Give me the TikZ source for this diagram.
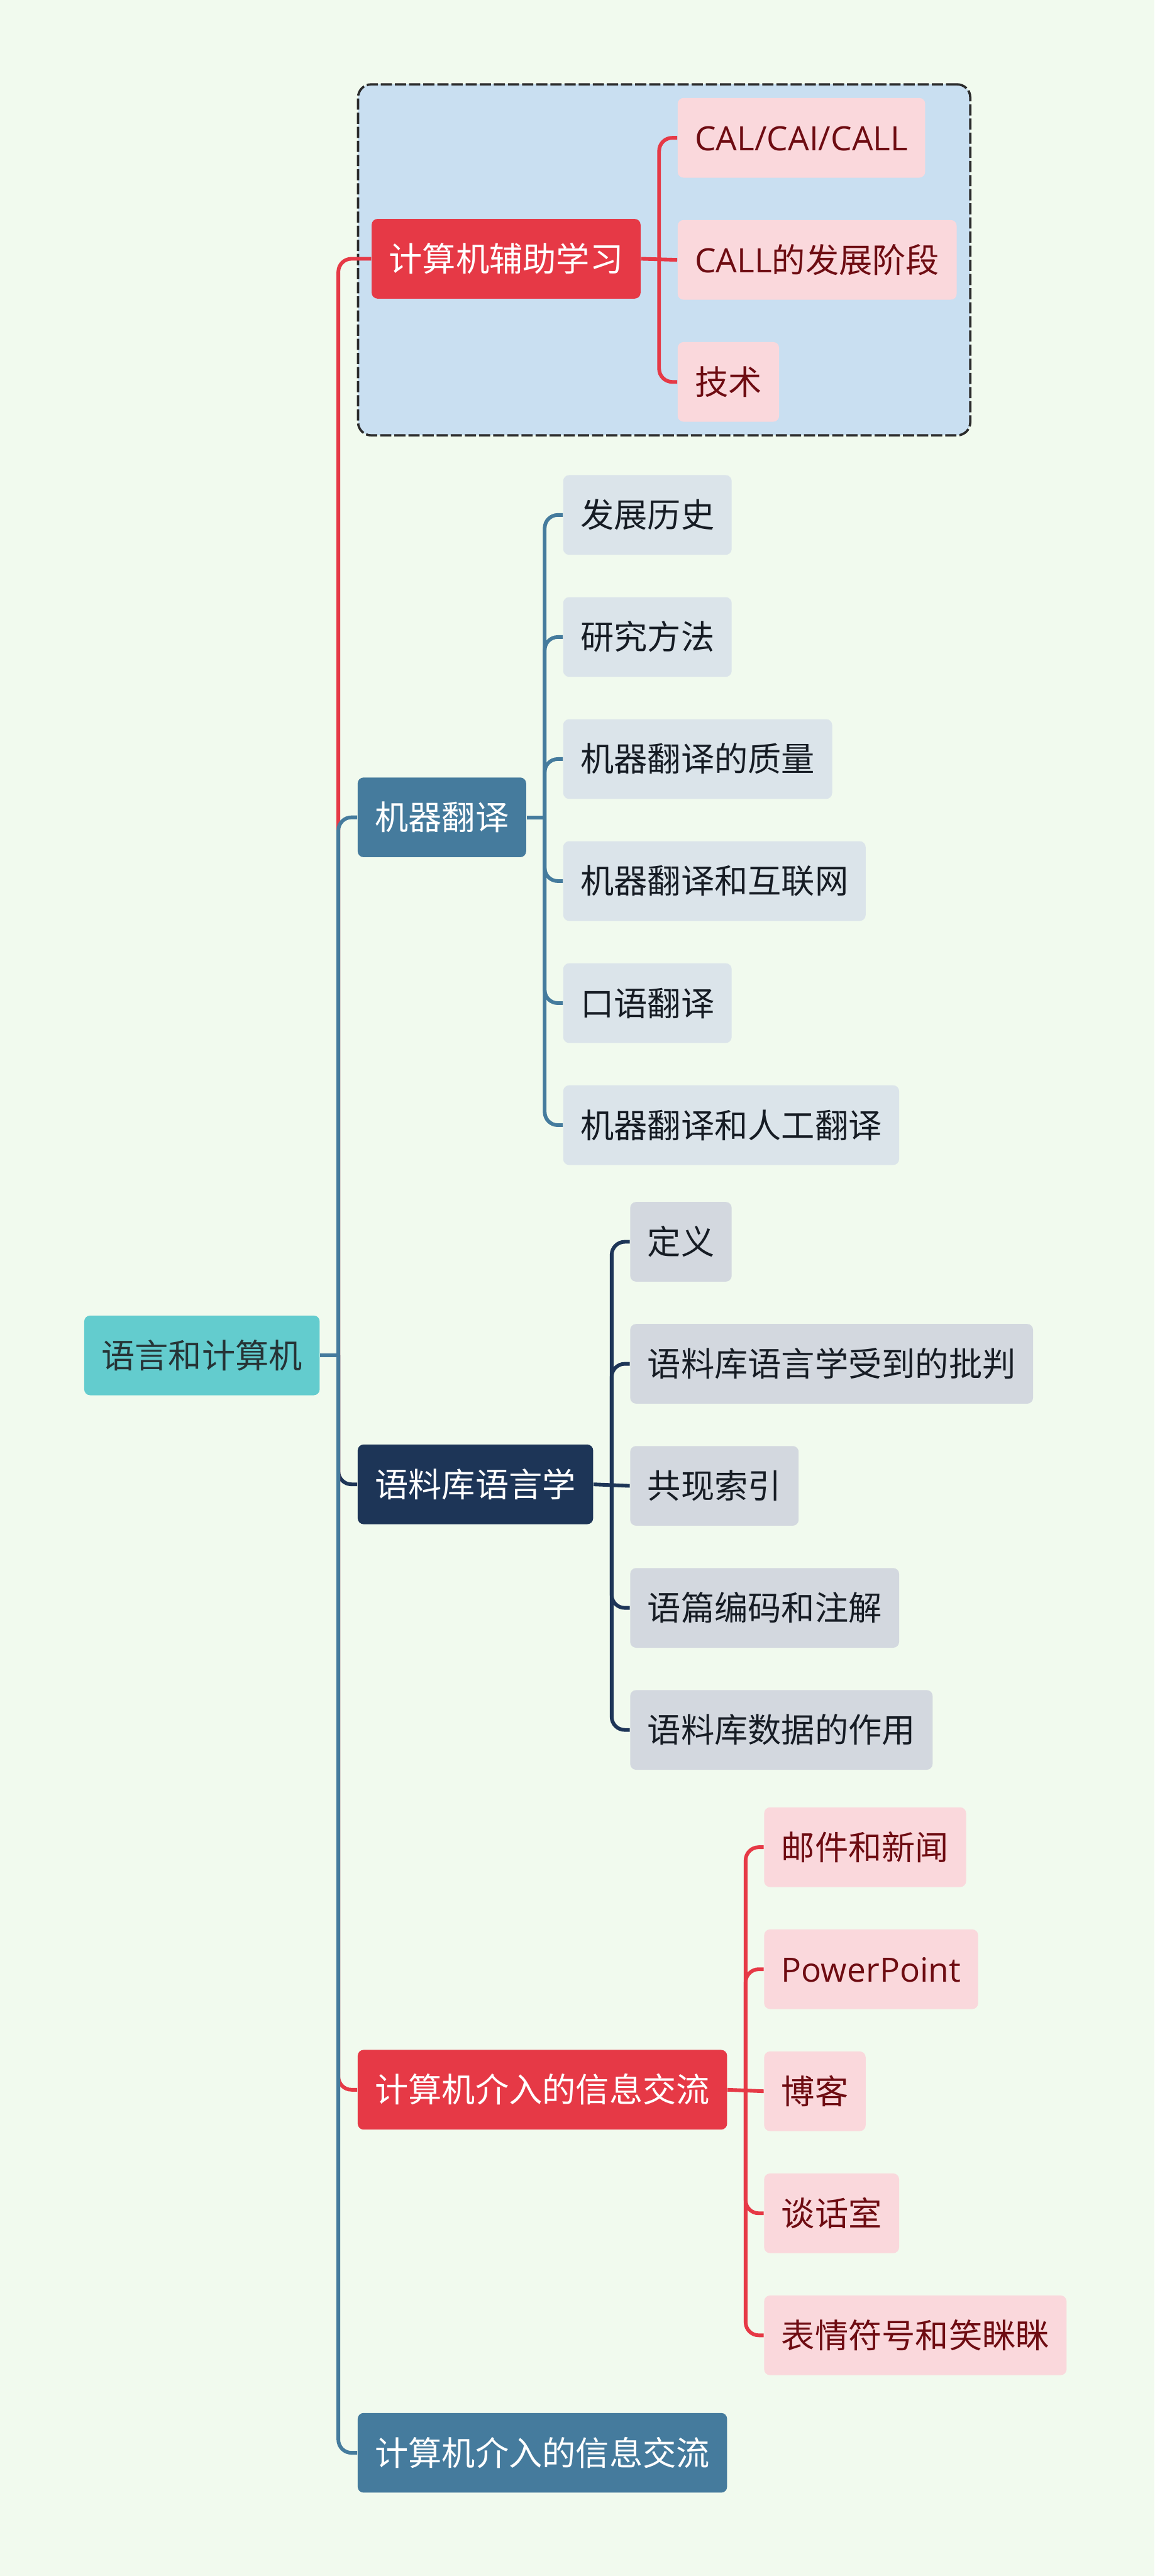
\documentclass[tikz,border=0pt]{standalone}
\usepackage{fontspec}
\setmainfont{Noto Sans CJK SC}
\newfontfamily\latinfont{Open Sans}
\usepackage{tikz}
\usetikzlibrary{positioning, fit, backgrounds}
\definecolor{pagebg}{RGB}{241,250,238}
\definecolor{rootfill}{RGB}{99,204,206}
\definecolor{roottext}{RGB}{38,52,54}
\definecolor{redfill}{RGB}{230,57,70}
\definecolor{pinkfill}{RGB}{250,216,220}
\definecolor{pinktext}{RGB}{110,12,18}
\definecolor{bluefill}{RGB}{69,123,157}
\definecolor{bluegray}{RGB}{219,228,234}
\definecolor{navyfill}{RGB}{29,53,87}
\definecolor{navygray}{RGB}{211,216,223}
\definecolor{leaftext}{RGB}{22,28,36}
\definecolor{groupfill}{RGB}{201,223,241}
\definecolor{groupframe}{RGB}{43,43,43}

\begin{document}
\begin{tikzpicture}[
        x=0.025cm, y=-0.025cm,
        node distance=0.63cm and 0.55cm,
        topic/.style={rectangle, rounded corners=0.09cm, minimum height=1.2125cm, inner xsep=0.2625cm, inner ysep=0pt, text height=12.7pt, text depth=1.8pt, font=\fontsize{14.5pt}{17pt}\selectfont},
        rootbox/.style={topic, fill=rootfill, text=roottext},
        redbox/.style={topic, fill=redfill, text=white},
        bluebox/.style={topic, fill=bluefill, text=white},
        navybox/.style={topic, fill=navyfill, text=white},
        pinkleaf/.style={topic, fill=pinkfill, text=pinktext},
        blueleaf/.style={topic, fill=bluegray, text=leaftext},
        navyleaf/.style={topic, fill=navygray, text=leaftext},
        link/.style={line width=1.6pt, rounded corners=0.2cm},
        group/.style={draw=groupframe, fill=groupfill, line width=1pt, dash pattern=on 0.17cm off 0.045cm, rounded corners=0.2cm, inner sep=0.2cm}
    ]
    \useasboundingbox (0,0) rectangle (703,1568);

    % root
    \node[rootbox, anchor=west] (root) at (51,825) {语言和计算机};
    \coordinate (trunk) at (206,825);

    % branch 1
    \node[redbox, anchor=west] (cal) at (226,157.5) {计算机辅助学习};
    \node[pinkleaf, above right=1.84cm and 0.55cm of cal.east, anchor=west] (c1) {\latinfont CAL/CAI/CALL};
    \node[pinkleaf, below=of c1.south west, anchor=north west] (c2) {{\latinfont CALL}的发展阶段};
    \node[pinkleaf, below=of c2.south west, anchor=north west] (c3) {技术};

    % branch 2
    \node[bluebox, anchor=west] (mt) at (217.5,497.5) {机器翻译};
    \node[blueleaf, above right=4.6cm and 0.55cm of mt.east, anchor=west] (m1) {发展历史};
    \node[blueleaf, below=of m1.south west, anchor=north west] (m2) {研究方法};
    \node[blueleaf, below=of m2.south west, anchor=north west] (m3) {机器翻译的质量};
    \node[blueleaf, below=of m3.south west, anchor=north west] (m4) {机器翻译和互联网};
    \node[blueleaf, below=of m4.south west, anchor=north west] (m5) {口语翻译};
    \node[blueleaf, below=of m5.south west, anchor=north west] (m6) {机器翻译和人工翻译};

    % branch 3
    \node[navybox, anchor=west] (cl) at (217.5,903.5) {语料库语言学};
    \node[navyleaf, above right=3.69cm and 0.55cm of cl.east, anchor=west] (k1) {定义};
    \node[navyleaf, below=of k1.south west, anchor=north west] (k2) {语料库语言学受到的批判};
    \node[navyleaf, below=of k2.south west, anchor=north west] (k3) {共现索引};
    \node[navyleaf, below=of k3.south west, anchor=north west] (k4) {语篇编码和注解};
    \node[navyleaf, below=of k4.south west, anchor=north west] (k5) {语料库数据的作用};

    % branch 4
    \node[redbox, anchor=west] (cmc) at (217.5,1272) {计算机介入的信息交流};
    \node[pinkleaf, above right=3.69cm and 0.55cm of cmc.east, anchor=west] (e1) {邮件和新闻};
    \node[pinkleaf, below=of e1.south west, anchor=north west] (e2) {\latinfont PowerPoint};
    \node[pinkleaf, below=of e2.south west, anchor=north west] (e3) {博客};
    \node[pinkleaf, below=of e3.south west, anchor=north west] (e4) {谈话室};
    \node[pinkleaf, below=of e4.south west, anchor=north west] (e5) {表情符号和笑眯眯};

    % branch 5
    \node[bluebox, anchor=west] (cmc2) at (217.5,1493) {计算机介入的信息交流};

    % trunk
    \draw[link, redfill] (trunk) -- (trunk |- cal.west) -- (cal.west);
    \draw[link, bluefill] (trunk) -- (trunk |- mt.west) -- (mt.west);
    \draw[link, navyfill] (trunk) -- (trunk |- cl.west) -- (cl.west);
    \draw[link, redfill] (trunk) -- (trunk |- cmc.west) -- (cmc.west);
    \draw[link, bluefill] (trunk) -- (trunk |- cmc2.west) -- (cmc2.west);
    \draw[line width=1.6pt, bluefill] (root.east) -- (trunk);

    % sub branches
    \coordinate[right=0.275cm of cal.east] (calbus);
    \draw[line width=1.6pt, redfill] (cal.east) -- (c2.west);
    \draw[link, redfill] (calbus) -- (calbus |- c1.west) -- (c1.west); \draw[link, redfill] (calbus) -- (calbus |- c3.west) -- (c3.west);

    \coordinate[right=0.275cm of mt.east] (mtbus);
    \draw[line width=1.6pt, bluefill] (mt.east) -- (mtbus);
    \draw[link, bluefill] (mtbus) -- (mtbus |- m1.west) -- (m1.west); \draw[link, bluefill] (mtbus) -- (mtbus |- m2.west) -- (m2.west);
    \draw[link, bluefill] (mtbus) -- (mtbus |- m3.west) -- (m3.west); \draw[link, bluefill] (mtbus) -- (mtbus |- m4.west) -- (m4.west);
    \draw[link, bluefill] (mtbus) -- (mtbus |- m5.west) -- (m5.west); \draw[link, bluefill] (mtbus) -- (mtbus |- m6.west) -- (m6.west);

    \coordinate[right=0.275cm of cl.east] (clbus);
    \draw[line width=1.6pt, navyfill] (cl.east) -- (k3.west);
    \draw[link, navyfill] (clbus) -- (clbus |- k1.west) -- (k1.west); \draw[link, navyfill] (clbus) -- (clbus |- k2.west) -- (k2.west);
    \draw[link, navyfill] (clbus) -- (clbus |- k4.west) -- (k4.west); \draw[link, navyfill] (clbus) -- (clbus |- k5.west) -- (k5.west);

    \coordinate[right=0.275cm of cmc.east] (cmcbus);
    \draw[line width=1.6pt, redfill] (cmc.east) -- (e3.west);
    \draw[link, redfill] (cmcbus) -- (cmcbus |- e1.west) -- (e1.west); \draw[link, redfill] (cmcbus) -- (cmcbus |- e2.west) -- (e2.west);
    \draw[link, redfill] (cmcbus) -- (cmcbus |- e4.west) -- (e4.west); \draw[link, redfill] (cmcbus) -- (cmcbus |- e5.west) -- (e5.west);

    % page and group frame
    \begin{scope}[on background layer]
        \fill[pagebg] (0,0) rectangle (703,1568);
        \node[group, fit=(cal)(c1)(c2)(c3)] (calgroup) {};
    \end{scope}

    \end{tikzpicture}
\end{document}
